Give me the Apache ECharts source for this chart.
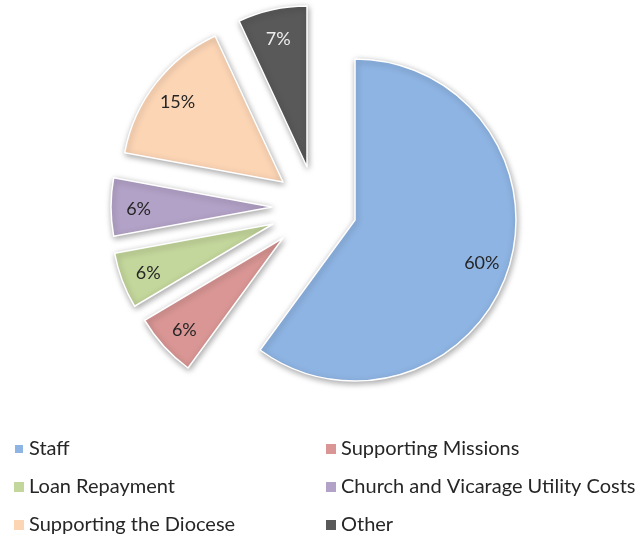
<!DOCTYPE html>
<html>
<head>
<meta charset="utf-8">
<script src="https://cdn.jsdelivr.net/npm/echarts@6/dist/echarts.min.js"></script>
<style>
html, body { margin: 0; padding: 0; background: #fff; }
#main { width: 636px; height: 537px; }
</style>
</head>
<body>
<div id="main"></div>
<script>
var categories = ['Staff', 'Supporting Missions', 'Loan Repayment', 'Church and Vicarage Utility Costs', 'Supporting the Diocese', 'Other'];
var values = [59.8, 6.4, 5.6, 5.8, 15.1, 6.9];
var legendLeft = ['Staff', 'Loan Repayment', 'Supporting the Diocese'];
var legendRight = ['Supporting Missions', 'Church and Vicarage Utility Costs', 'Other'];

var colors = ['#8EB4E3', '#D99694', '#C3D69B', '#B3A2C7', '#FCD5B5', '#595959'];
var labelColors = ['#262626', '#262626', '#262626', '#262626', '#262626', '#eeeeee'];
// how far each slice is pulled out of the pie (px)
var explode = [[0, 0], [-72, 18], [-82, 4], [-83, -13], [-72, -38], [-48, -53]];
var pieCenter = [355, 220];
var pieRadius = 161;
var fontName = 'Lato';

var total = values.reduce(function (a, b) { return a + b; }, 0);

// push the inside labels further out than the default half radius
function labelPush(params) {
    var i = params.dataIndex;
    var before = 0;
    for (var k = 0; k < i; k++) before += values[k];
    var mid = (before + values[i] / 2) / total * Math.PI * 2;
    var push = pieRadius * 0.31;
    return { dx: Math.sin(mid) * push, dy: -Math.cos(mid) * push + 2 };
}

var series = categories.map(function (name, i) {
    return {
        type: 'pie',
        silent: true,
        center: [pieCenter[0] + explode[i][0], pieCenter[1] + explode[i][1]],
        radius: pieRadius,
        startAngle: 90,
        clockwise: true,
        avoidLabelOverlap: false,
        percentPrecision: 0,
        emphasis: { disabled: true },
        labelLine: { show: false },
        labelLayout: labelPush,
        data: categories.map(function (n, j) {
            if (j === i) {
                return {
                    name: n,
                    value: values[j],
                    itemStyle: {
                        color: colors[j],
                        borderColor: '#ffffff',
                        borderWidth: 1.5,
                        shadowBlur: 6,
                        shadowOffsetX: 1,
                        shadowOffsetY: 2,
                        shadowColor: 'rgba(0,0,0,0.35)'
                    },
                    label: {
                        show: true,
                        position: 'inside',
                        formatter: '{d}%',
                        color: labelColors[j],
                        fontFamily: fontName,
                        fontSize: 18
                    }
                };
            }
            return {
                name: n,
                value: values[j],
                itemStyle: { color: 'rgba(0,0,0,0)', borderWidth: 0, shadowBlur: 0, shadowColor: 'rgba(0,0,0,0)' },
                label: { show: false }
            };
        })
    };
});

function legendData(names) {
    return names.map(function (n) {
        return { name: n, itemStyle: { color: colors[categories.indexOf(n)] } };
    });
}

var legendBase = {
    orient: 'vertical',
    top: 439,
    height: 120,
    padding: 0,
    icon: 'rect',
    itemWidth: 10,
    itemHeight: 10,
    itemGap: 18,
    selectedMode: false,
    textStyle: { color: '#262626', fontFamily: fontName, fontSize: 20, lineHeight: 20 }
};

var chart = echarts.init(document.getElementById('main'));
chart.setOption({
    animation: false,
    legend: [
        Object.assign({}, legendBase, { left: 13, data: legendData(legendLeft) }),
        Object.assign({}, legendBase, { left: 326, data: legendData(legendRight) })
    ],
    series: series
});
</script>
</body>
</html>
